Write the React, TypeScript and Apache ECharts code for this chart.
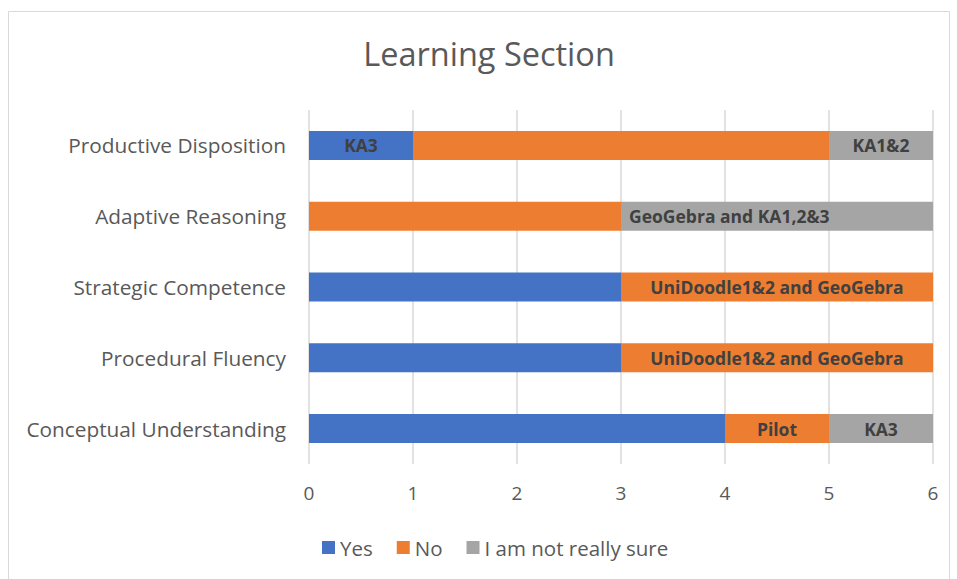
import React, { useEffect, useRef } from "react";
import * as echarts from "echarts";

const categories = [
  "Conceptual Understanding",
  "Procedural Fluency",
  "Strategic Competence",
  "Adaptive Reasoning",
  "Productive Disposition",
];
const yesValues = [4, 3, 3, 0, 1];
const noValues = [1, 3, 3, 3, 4];
const notSureValues = [1, 0, 0, 3, 1];
const yesLabels = ["", "", "", "", "KA3"];
const noLabels = ["Pilot", "UniDoodle1&2 and GeoGebra", "UniDoodle1&2 and GeoGebra", "", ""];
const notSureLabels = ["KA3", "", "", "GeoGebra and KA1,2&3", "KA1&2"];
const xTicks = [0, 1, 2, 3, 4, 5, 6];

const FONT = "'Open Sans', 'Noto Sans', sans-serif";

export default function App() {
  const ref = useRef<HTMLDivElement>(null);
  useEffect(() => {
    document.body.style.margin = "0";
    const chart = echarts.init(ref.current!, undefined, { renderer: "svg" });
    const mk = (name: string, vals: number[], labels: string[], color: string) => ({
      name,
      type: "bar",
      stack: "total",
      barWidth: 29,
      itemStyle: { color },
      data: vals.map((v, i) => {
        const txt = labels[i];
        const long = txt.length > 15 && name === "I am not really sure";
        return {
          value: v,
          label: long
            ? { show: true, position: "insideLeft", distance: 8 }
            : { show: !!txt && v > 0 },
        };
      }),
      label: {
        show: false,
        position: "inside",
        formatter: (p: any) => labels[p.dataIndex],
        color: "#404040",
        fontWeight: "bold",
        fontSize: 17.5,
        fontFamily: FONT,
      },
    });
    chart.setOption({
      animation: false,
      backgroundColor: "#fff",
      title: {
        text: "Learning Section",
        left: 484,
        top: 32,
        textAlign: "center",
        textStyle: { fontSize: 32.5, fontWeight: "normal", color: "#595959", fontFamily: FONT },
      },
      graphic: [
        {
          type: "rect",
          shape: { x: 8.5, y: 11.5, width: 941, height: 600 },
          style: { fill: "none", stroke: "#d9d9d9", lineWidth: 1 },
          silent: true,
          z: -1,
        },
      ],
      legend: {
        left: 317,
        top: 532,
        itemWidth: 13,
        itemHeight: 13,
        itemGap: 24,
        icon: "rect",
        textStyle: { fontSize: 20.5, color: "#595959", fontFamily: FONT },
        data: ["Yes", "No", "I am not really sure"],
      },
      grid: { left: 309, right: 24, top: 110, bottom: 115 },
      xAxis: {
        type: "value",
        min: 0,
        max: 6,
        interval: 1,
        axisLine: { show: false },
        axisTick: { show: false },
        splitLine: { lineStyle: { color: "#d9d9d9", width: 1.5 } },
        axisLabel: {
          margin: 19,
          fontSize: 19,
          color: "#595959",
          fontFamily: FONT,
          formatter: (v: number) => (xTicks.includes(v) ? String(v) : ""),
        },
      },
      yAxis: {
        type: "category",
        data: categories,
        axisLine: { show: false },
        axisTick: { show: false },
        axisLabel: { margin: 23, fontSize: 20.8, color: "#595959", fontFamily: FONT },
      },
      series: [
        mk("Yes", yesValues, yesLabels, "#4472c4"),
        mk("No", noValues, noLabels, "#ed7d31"),
        mk("I am not really sure", notSureValues, notSureLabels, "#a5a5a5"),
      ],
    });
    return () => chart.dispose();
  }, []);
  return <div ref={ref} style={{ width: 957, height: 579 }} />;
}
